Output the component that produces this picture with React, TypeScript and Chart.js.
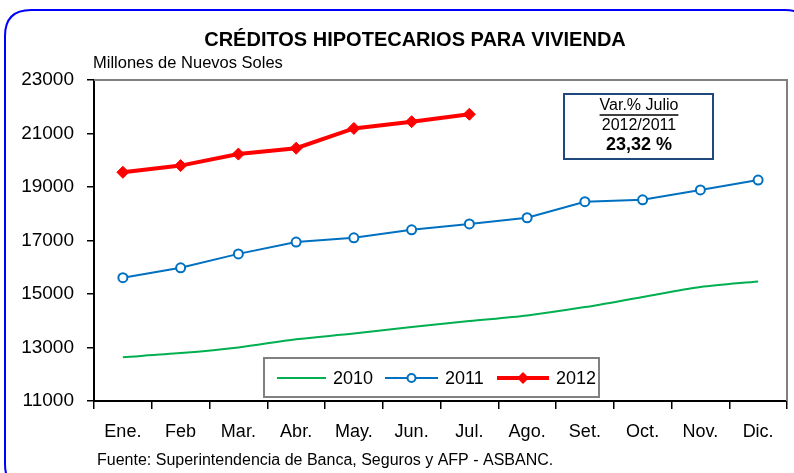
import React, { useEffect, useRef } from "react";
import { Chart, registerables } from "chart.js";

Chart.register(...registerables);

const months = ["Ene.", "Feb", "Mar.", "Abr.", "May.", "Jun.", "Jul.", "Ago.", "Set.", "Oct.", "Nov.", "Dic."];
const serie2010 = [12640, 12790, 13000, 13310, 13520, 13770, 13990, 14200, 14510, 14890, 15260, 15470];
const serie2011 = [15610, 15980, 16500, 16940, 17100, 17400, 17620, 17850, 18450, 18520, 18890, 19260];
const serie2012 = [19550, 19800, 20230, 20450, 21190, 21440, 21720];
const seriesNames = ["2010", "2011", "2012"];
const yMin = 11000;
const yMax = 23000;
const yStep = 2000;
const chartTitle = "CRÉDITOS HIPOTECARIOS PARA VIVIENDA";
const unitLabel = "Millones de Nuevos Soles";
const sourceLabel = "Fuente: Superintendencia de Banca, Seguros y AFP - ASBANC.";
const boxLines = ["Var.% Julio", "2012/2011", "23,32 %"];

const GREEN = "#00B050";
const BLUE = "#0070C0";
const RED = "#FF0000";
const FONT = "'Liberation Sans', Arial, sans-serif";

const decorPlugin = {
  id: "decor",
  beforeDraw(chart: any) {
    const ctx = chart.ctx;
    ctx.save();
    ctx.fillStyle = "#ffffff";
    ctx.fillRect(0, 0, chart.width, chart.height);
    // rounded blue frame
    const x = 5, y = 10, w = 806, h = 480, r = 26;
    ctx.beginPath();
    ctx.moveTo(x + r, y);
    ctx.lineTo(x + w - r, y);
    ctx.quadraticCurveTo(x + w, y, x + w, y + r);
    ctx.lineTo(x + w, y + h - r);
    ctx.quadraticCurveTo(x + w, y + h, x + w - r, y + h);
    ctx.lineTo(x + r, y + h);
    ctx.quadraticCurveTo(x, y + h, x, y + h - r);
    ctx.lineTo(x, y + r);
    ctx.quadraticCurveTo(x, y, x + r, y);
    ctx.closePath();
    ctx.strokeStyle = "#0000FF";
    ctx.lineWidth = 2;
    ctx.stroke();
    ctx.restore();
  },
  beforeDatasetsDraw(chart: any) {
    const ctx = chart.ctx;
    const a = chart.chartArea;
    ctx.save();
    ctx.strokeStyle = "#808080";
    ctx.lineWidth = 2;
    ctx.beginPath();
    ctx.moveTo(a.left, a.top);
    ctx.lineTo(a.right, a.top);
    ctx.lineTo(a.right, a.bottom);
    ctx.stroke();
    ctx.restore();
  },
  afterDraw(chart: any) {
    const ctx = chart.ctx;
    ctx.save();
    ctx.fillStyle = "#000";
    // title
    ctx.font = `bold 20px ${FONT}`;
    ctx.textAlign = "center";
    ctx.textBaseline = "middle";
    ctx.fillText(chartTitle, 415, 40);
    // unit label
    ctx.font = `16.5px ${FONT}`;
    ctx.textAlign = "left";
    ctx.textBaseline = "alphabetic";
    ctx.fillText(unitLabel, 93, 68);
    // source
    ctx.font = `16px ${FONT}`;
    ctx.fillText(sourceLabel, 97, 465);

    // annotation box
    ctx.fillStyle = "#fff";
    ctx.fillRect(564, 94, 149, 65);
    ctx.strokeStyle = "#1F497D";
    ctx.lineWidth = 2;
    ctx.strokeRect(564, 94, 149, 65);
    ctx.fillStyle = "#000";
    ctx.textAlign = "center";
    ctx.textBaseline = "middle";
    ctx.font = `16px ${FONT}`;
    ctx.fillText(boxLines[0], 639, 106);
    const w0 = ctx.measureText(boxLines[0]).width;
    ctx.strokeStyle = "#000";
    ctx.lineWidth = 1.5;
    ctx.beginPath();
    ctx.moveTo(639 - w0 / 2, 115);
    ctx.lineTo(639 + w0 / 2, 115);
    ctx.stroke();
    ctx.fillText(boxLines[1], 639, 126);
    ctx.font = `bold 18px ${FONT}`;
    ctx.fillText(boxLines[2], 639, 145);

    // legend
    const lx = 264, ly = 358, lw = 335, lh = 39;
    ctx.fillStyle = "#fff";
    ctx.fillRect(lx, ly, lw, lh);
    ctx.strokeStyle = "#808080";
    ctx.lineWidth = 2;
    ctx.strokeRect(lx, ly, lw, lh);
    const cy = 378;
    const entries = [
      { x0: 277, x1: 326, tx: 333, color: GREEN, width: 2, marker: "none" },
      { x0: 385, x1: 438, tx: 445, color: BLUE, width: 2, marker: "circle" },
      { x0: 497, x1: 549, tx: 556, color: RED, width: 4, marker: "diamond" },
    ];
    entries.forEach((e, i) => {
      ctx.strokeStyle = e.color;
      ctx.lineWidth = e.width;
      ctx.beginPath();
      ctx.moveTo(e.x0, cy);
      ctx.lineTo(e.x1, cy);
      ctx.stroke();
      const mx = (e.x0 + e.x1) / 2;
      if (e.marker === "circle") {
        ctx.beginPath();
        ctx.arc(mx, cy, 4, 0, Math.PI * 2);
        ctx.fillStyle = "#fff";
        ctx.fill();
        ctx.lineWidth = 2;
        ctx.stroke();
      } else if (e.marker === "diamond") {
        ctx.beginPath();
        ctx.moveTo(mx, cy - 6);
        ctx.lineTo(mx + 6, cy);
        ctx.lineTo(mx, cy + 6);
        ctx.lineTo(mx - 6, cy);
        ctx.closePath();
        ctx.fillStyle = RED;
        ctx.fill();
      }
      ctx.fillStyle = "#000";
      ctx.font = `18px ${FONT}`;
      ctx.textAlign = "left";
      ctx.textBaseline = "middle";
      ctx.fillText(seriesNames[i], e.tx, cy + 1);
    });
    ctx.restore();
  },
};

export default function App() {
  const canvasRef = useRef<HTMLCanvasElement | null>(null);

  useEffect(() => {
    if (!canvasRef.current) return;
    const chart = new Chart(canvasRef.current, {
      type: "line",
      data: {
        labels: months,
        datasets: [
          {
            label: seriesNames[0],
            data: serie2010,
            borderColor: GREEN,
            backgroundColor: GREEN,
            borderWidth: 2,
            pointRadius: 0,
            tension: 0.3,
            order: 3,
          },
          {
            label: seriesNames[1],
            data: serie2011,
            borderColor: BLUE,
            backgroundColor: "#ffffff",
            borderWidth: 2,
            pointStyle: "circle",
            pointRadius: 4.5,
            pointBorderWidth: 2,
            pointBorderColor: BLUE,
            pointBackgroundColor: "#ffffff",
            tension: 0,
            order: 2,
          },
          {
            label: seriesNames[2],
            data: serie2012,
            borderColor: RED,
            backgroundColor: RED,
            borderWidth: 4,
            pointStyle: "rectRot",
            pointRadius: 6,
            pointBorderWidth: 1,
            pointBorderColor: RED,
            pointBackgroundColor: RED,
            tension: 0,
            order: 1,
          },
        ],
      },
      options: {
        responsive: false,
        animation: false,
        devicePixelRatio: 1,
        layout: { padding: { top: 80, right: 7, bottom: 0, left: 0 } },
        plugins: {
          legend: { display: false },
          title: { display: false },
          tooltip: { enabled: false },
        },
        scales: {
          x: {
            offset: true,
            afterFit: (s: any) => {
              s.height = 72;
            },
            grid: {
              offset: true,
              drawOnChartArea: false,
              drawTicks: true,
              tickLength: 8,
              color: "#000",
              lineWidth: 1.5,
            },
            border: { display: true, color: "#000", width: 2 },
            ticks: {
              color: "#000",
              font: { family: FONT, size: 18 },
              padding: 12,
              maxRotation: 0,
              autoSkip: false,
            },
          },
          y: {
            min: yMin,
            max: yMax,
            afterFit: (s: any) => {
              s.width = 94;
            },
            grid: {
              drawOnChartArea: false,
              drawTicks: true,
              tickLength: 7,
              color: "#000",
              lineWidth: 1.5,
            },
            border: { display: true, color: "#000", width: 2 },
            ticks: {
              stepSize: yStep,
              color: "#000",
              font: { family: FONT, size: 19 },
              padding: 13,
              callback: (v: any) => String(v),
            },
          },
        },
      },
      plugins: [decorPlugin],
    });
    return () => chart.destroy();
  }, []);

  return (
    <div style={{ position: "fixed", left: 0, top: 0, width: 794, height: 473 }}>
      <canvas ref={canvasRef} width={794} height={473} style={{ width: 794, height: 473, display: "block" }} />
    </div>
  );
}
